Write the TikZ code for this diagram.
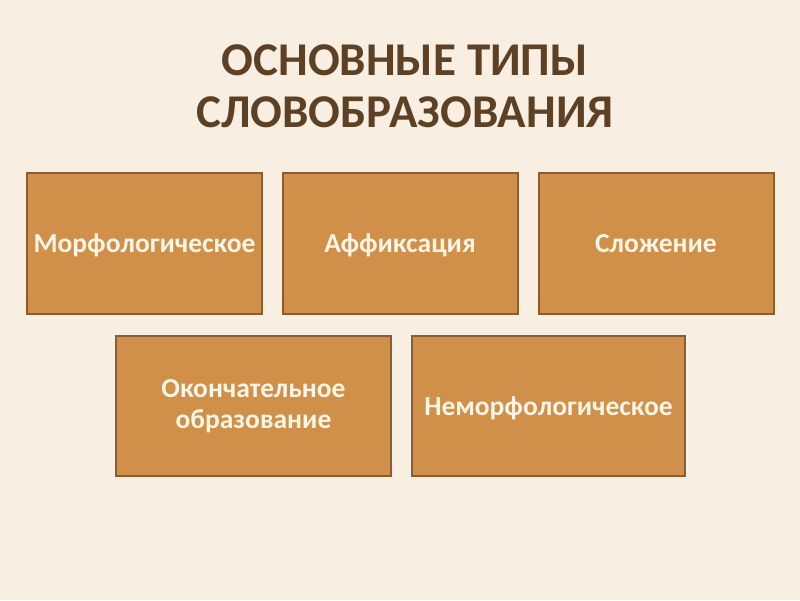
\documentclass[tikz,border=0pt]{standalone}
\usepackage{fontspec}
\setmainfont{Carlito}
\usetikzlibrary{calc}
\definecolor{paper}{HTML}{F8EFE2}
\definecolor{boxfill}{HTML}{D09049}
\definecolor{boxline}{HTML}{8A5E30}
\definecolor{titlebrown}{HTML}{5E4124}
\definecolor{boxtext}{HTML}{FDF5E6}
\tikzset{
 kind/.style={draw=boxline, line width=2pt, fill=boxfill, text=boxtext,
  font=\fontsize{27.5}{31}\selectfont\bfseries, align=center, inner sep=1pt,
  minimum height=141pt},
 oneline/.style={text height=20pt, text depth=2pt},
}
\begin{document}
\begin{tikzpicture}[x=1pt,y=-1pt]
\fill[paper] (0,0) rectangle (800,600);
\useasboundingbox (0,0) rectangle (800,600);
\node[titlebrown, font=\fontsize{47}{52}\selectfont\bfseries, align=center] (title) at (405,86) {ОСНОВНЫЕ ТИПЫ\\СЛОВОБРАЗОВАНИЯ};
% first row
\node[kind, oneline, minimum width=235pt] (morph) at (144.5,243.5) {Морфологическое};
\node[kind, oneline, minimum width=235pt] (affix) at (400,243.5) {Аффиксация};
\node[kind, oneline, minimum width=235pt] (compound) at (656,243.5) {Сложение};
% second row
\node[kind, minimum width=275pt, minimum height=140pt] (ending) at (253.5,406) {Окончательное\\образование};
\node[kind, oneline, minimum width=273pt, minimum height=140pt] (nonmorph) at (548.5,406) {Неморфологическое};
\end{tikzpicture}
\end{document}
